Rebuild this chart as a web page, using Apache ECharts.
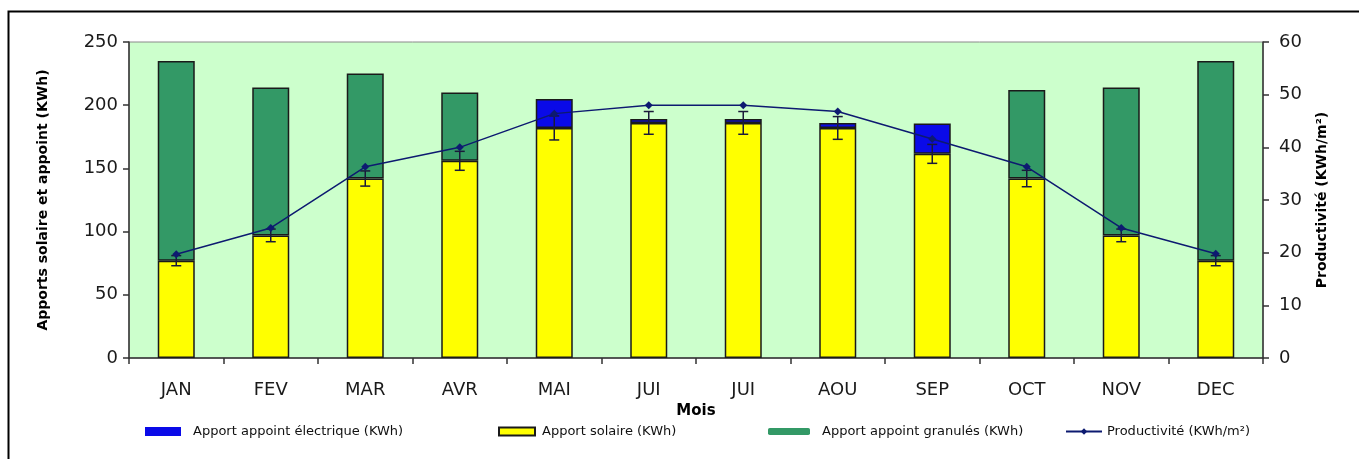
<!DOCTYPE html>
<html>
<head>
<meta charset="utf-8">
<script src="https://cdn.jsdelivr.net/npm/echarts@6/dist/echarts.min.js"></script>
<style>
html,body{margin:0;padding:0;background:#fff;}
#c{width:1359px;height:459px;}
</style>
</head>
<body>
<div id="c"></div>
<script>
const months = ['JAN','FEV','MAR','AVR','MAI','JUI','JUI','AOU','SEP','OCT','NOV','DEC'];
const solaire = [77, 97, 142, 156, 182, 186, 186, 182, 161.5, 142, 97, 77];
const electrique = [null, null, null, null, 23, 3, 3, 4, 24, null, null, null];
const granules = [158, 117, 83, 54, null, null, null, null, null, 70, 117, 158];
const solaireErr = [4, 5, 6, 7.5, 9.5, 9, 9, 9, 7.5, 6.5, 5, 4];
const productivite = [19.7, 24.7, 36.3, 40, 46.4, 48, 48, 46.8, 41.6, 36.3, 24.7, 19.8];
const leftTicks = {min: 0, max: 250, interval: 50};
const rightTicks = {min: 0, max: 60, interval: 10};

const names = {
  elec: 'Apport appoint électrique (KWh)',
  sol: 'Apport solaire (KWh)',
  gran: 'Apport appoint granulés (KWh)',
  prod: 'Productivité (KWh/m²)'
};

const chart = echarts.init(document.getElementById('c'), null, {renderer: 'canvas'});
const labelFont = {fontFamily: 'DejaVu Sans', fontSize: 18, color: '#1a1a1a'};
const legendText = {fontFamily: 'DejaVu Sans', fontSize: 13, color: '#111'};
const titleFont = {fontFamily: 'DejaVu Sans', fontWeight: 'bold', fontSize: 14, color: '#000'};

const errData = solaire.map((v, i) => [i, v, solaireErr[i]]);

chart.setOption({
  animation: false,
  backgroundColor: '#ffffff',
  graphic: [{
    type: 'rect', left: 6, top: 9, z: 100, silent: true,
    shape: {width: 1400, height: 500},
    style: {fill: 'none', stroke: '#000', lineWidth: 2}
  }],
  grid: {
    left: 129, right: 96, top: 42, bottom: 101,
    show: true, backgroundColor: '#ccffcc', borderColor: '#8a8a8a', borderWidth: 1
  },
  legend: [
    {left: 140, top: 420, itemWidth: 36, itemHeight: 9, data: [{name: names.elec, icon: 'rect', itemStyle: {borderWidth: 0}}], textStyle: Object.assign({padding: [0,0,0,7]}, legendText), selectedMode: false},
    {left: 493, top: 420, itemWidth: 36, itemHeight: 8, data: [{name: names.sol, icon: 'rect'}], textStyle: Object.assign({padding: [0,0,0,2]}, legendText), selectedMode: false},
    {left: 763, top: 420, itemWidth: 42, itemHeight: 7, data: [{name: names.gran, icon: 'roundRect', itemStyle: {borderWidth: 0}}], textStyle: Object.assign({padding: [0,0,0,7]}, legendText), selectedMode: false},
    {left: 1060, top: 420, itemWidth: 36, itemHeight: 8, data: [{name: names.prod}], textStyle: legendText, selectedMode: false}
  ],
  xAxis: {
    type: 'category', data: months,
    name: 'Mois', nameLocation: 'middle', nameGap: 44,
    nameTextStyle: {fontFamily: 'DejaVu Sans', fontWeight: 'bold', fontSize: 15, color: '#000'},
    axisLine: {lineStyle: {color: '#333', width: 1.5}},
    axisTick: {show: true, length: 6, lineStyle: {color: '#333', width: 1.5}},
    axisLabel: Object.assign({margin: 23}, labelFont),
    splitLine: {show: false}
  },
  yAxis: [{
    type: 'value', min: leftTicks.min, max: leftTicks.max, interval: leftTicks.interval,
    name: 'Apports solaire et appoint (KWh)', nameLocation: 'middle', nameGap: 79, nameRotate: 90,
    nameTextStyle: titleFont,
    axisLine: {show: true, lineStyle: {color: '#333', width: 1.5}},
    axisTick: {show: true, length: 6, lineStyle: {color: '#333', width: 1.5}},
    axisLabel: Object.assign({margin: 11}, labelFont),
    splitLine: {show: false}
  }, {
    type: 'value', min: rightTicks.min, max: rightTicks.max, interval: rightTicks.interval, position: 'right',
    name: 'Productivité (KWh/m²)', nameLocation: 'middle', nameGap: 52, nameRotate: 90,
    nameTextStyle: titleFont,
    axisLine: {show: true, lineStyle: {color: '#333', width: 1.5}},
    axisTick: {show: true, length: 6, lineStyle: {color: '#333', width: 1.5}},
    axisLabel: Object.assign({margin: 16}, labelFont),
    splitLine: {show: false}
  }],
  series: [
    {name: names.sol, type: 'bar', stack: 'a', yAxisIndex: 0, barWidth: 37, data: solaire,
     itemStyle: {color: '#ffff00', borderColor: '#1a1a1a', borderWidth: 1.5}},
    {name: names.elec, type: 'bar', stack: 'a', yAxisIndex: 0, barWidth: 37, data: electrique,
     itemStyle: {color: '#0a0ae8', borderColor: '#1a1a1a', borderWidth: 1.5}},
    {name: names.gran, type: 'bar', stack: 'a', yAxisIndex: 0, barWidth: 37, data: granules,
     itemStyle: {color: '#339966', borderColor: '#1a1a1a', borderWidth: 1.5}},
    {name: 'err', type: 'custom', yAxisIndex: 0, z: 5, data: errData,
     encode: {x: 0, y: 1},
     renderItem: function (params, api) {
       const i = api.value(0), v = api.value(1), e = api.value(2);
       const hi = api.coord([i, v + e]);
       const lo = api.coord([i, v - e]);
       const w = 5;
       const st = {stroke: '#1a1a3a', lineWidth: 1.5};
       return {type: 'group', children: [
         {type: 'line', shape: {x1: hi[0], y1: hi[1], x2: lo[0], y2: lo[1]}, style: st},
         {type: 'line', shape: {x1: hi[0]-w, y1: hi[1], x2: hi[0]+w, y2: hi[1]}, style: st},
         {type: 'line', shape: {x1: lo[0]-w, y1: lo[1], x2: lo[0]+w, y2: lo[1]}, style: st}
       ]};
     }},
    {name: names.prod, type: 'line', yAxisIndex: 1, z: 6, data: productivite,
     symbol: 'diamond', symbolSize: 8,
     lineStyle: {color: '#0d1a70', width: 1.5},
     itemStyle: {color: '#0d1a70'}}
  ]
});
</script>
</body>
</html>
